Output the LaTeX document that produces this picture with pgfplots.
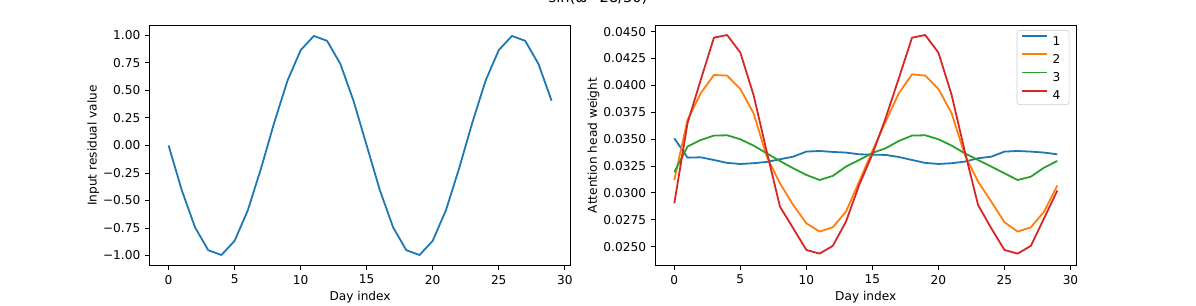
\documentclass[border=0pt]{standalone}
\usepackage{fontspec}
\setmainfont{DejaVu Sans}
\usepackage{pgfplots}
\pgfplotsset{compat=1.18}
\definecolor{tabblue}{HTML}{1F77B4}
\definecolor{taborange}{HTML}{FF7F0E}
\definecolor{tabgreen}{HTML}{2CA02C}
\definecolor{tabred}{HTML}{D62728}
\pgfplotsset{
  mpl/.style={
    scale only axis,
    anchor=south west,
    width=303.3pt, height=173.5pt,
    xmin=-1.45, xmax=30.45,
    xtick={0,5,10,15,20,25,30},
    tick align=outside,
    tick pos=left,
    major tick length=3.05pt,
    axis line style={line width=0.7pt},
    every tick/.style={black, line width=0.7pt},
    tick label style={font=\fontsize{8.75}{10.5}\selectfont},
    label style={font=\fontsize{8.75}{10.5}\selectfont},
    /pgf/number format/assume math mode=true,
    xlabel={Day index},
    xlabel shift=-2pt,
    ylabel shift=-4pt,
    every axis plot/.append style={line width=1.3pt, mark=none, line join=round},
  }
}
\begin{document}
\begin{tikzpicture}
\begin{axis}[mpl,
  at={(107.6pt,28.1pt)},
  ymin=-1.0945, ymax=1.0945,
  ytick={-1,-0.75,-0.5,-0.25,0,0.25,0.5,0.75,1},
  yticklabels={−1.00,−0.75,−0.50,−0.25,0.00,0.25,0.50,0.75,1.00},
  ylabel={Input residual value},
]
\addplot[tabblue] coordinates {
(0,0.000) (1,-0.407) (2,-0.743) (3,-0.951) (4,-0.995) (5,-0.866)
(6,-0.588) (7,-0.208) (8,0.208) (9,0.588) (10,0.866) (11,0.995)
(12,0.951) (13,0.743) (14,0.407) (15,0.000) (16,-0.407) (17,-0.743)
(18,-0.951) (19,-0.995) (20,-0.866) (21,-0.588) (22,-0.208) (23,0.208)
(24,0.588) (25,0.866) (26,0.995) (27,0.951) (28,0.743) (29,0.407)
};
\end{axis}
\begin{axis}[mpl,
  at={(471.7pt,28.1pt)},
  ymin=0.02320, ymax=0.04562,
  ytick={0.025,0.0275,0.03,0.0325,0.035,0.0375,0.04,0.0425,0.045},
  yticklabel style={/pgf/number format/.cd, fixed, fixed zerofill, precision=4},
  scaled y ticks=false,
  ylabel={Attention head weight},
  legend style={at={(1,1)}, anchor=north east, xshift=-5pt, yshift=-3.6pt,
    draw=black!20, rounded corners=2pt, fill=white, fill opacity=0.8, text opacity=1,
    font=\fontsize{8.75}{10.5}\selectfont, row sep=6pt, inner xsep=2.9pt, inner ysep=3.5pt,
    nodes={text height=6.5pt, text depth=0pt, inner ysep=0pt, inner xsep=3.5pt}},
  legend cell align=left,
  legend image code/.code={\draw[#1, line width=1.3pt] (0cm,3.25pt) -- (0.63cm,3.25pt);},
]
\addplot[tabblue] coordinates {
(0,0.03508) (1,0.03328) (2,0.03331) (3,0.03306) (4,0.03279) (5,0.03269)
(6,0.03276) (7,0.03288) (8,0.03313) (9,0.03337) (10,0.03384) (11,0.03390)
(12,0.03381) (13,0.03375) (14,0.03359) (15,0.03356) (16,0.03353) (17,0.03334)
(18,0.03306) (19,0.03279) (20,0.03269) (21,0.03276) (22,0.03291) (23,0.03322)
(24,0.03337) (25,0.03384) (26,0.03390) (27,0.03384) (28,0.03375) (29,0.03359)
};
\addlegendentry{1}
\addplot[taborange] coordinates {
(0,0.03120) (1,0.03679) (2,0.03927) (3,0.04097) (4,0.04091) (5,0.03967)
(6,0.03741) (7,0.03338) (8,0.03089) (9,0.02888) (10,0.02717) (11,0.02640)
(12,0.02680) (13,0.02826) (14,0.03105) (15,0.03390) (16,0.03663) (17,0.03927)
(18,0.04103) (19,0.04091) (20,0.03967) (21,0.03741) (22,0.03353) (23,0.03105)
(24,0.02919) (25,0.02727) (26,0.02640) (27,0.02680) (28,0.02826) (29,0.03068)
};
\addlegendentry{2}
\addplot[tabgreen] coordinates {
(0,0.03192) (1,0.03431) (2,0.03492) (3,0.03533) (4,0.03536) (5,0.03499)
(6,0.03440) (7,0.03368) (8,0.03297) (9,0.03229) (10,0.03167) (11,0.03120)
(12,0.03158) (13,0.03245) (14,0.03306) (15,0.03372) (16,0.03415) (17,0.03483)
(18,0.03533) (19,0.03536) (20,0.03499) (21,0.03440) (22,0.03368) (23,0.03306)
(24,0.03245) (25,0.03182) (26,0.03120) (27,0.03151) (28,0.03235) (29,0.03297)
};
\addlegendentry{3}
\addplot[tabred] coordinates {
(0,0.02903) (1,0.03648) (2,0.04051) (3,0.04444) (4,0.04469) (5,0.04305)
(6,0.03911) (7,0.03384) (8,0.02872) (9,0.02671) (10,0.02469) (11,0.02435)
(12,0.02507) (13,0.02733) (14,0.03074) (15,0.03360) (16,0.03694) (17,0.04066)
(18,0.04444) (19,0.04469) (20,0.04305) (21,0.03911) (22,0.03384) (23,0.02888)
(24,0.02671) (25,0.02469) (26,0.02435) (27,0.02507) (28,0.02764) (29,0.03021)
};
\addlegendentry{4}
\end{axis}
\node[anchor=base, font=\fontsize{10.5}{12.6}\selectfont] at (430.6pt,217.6pt) {sin(ω=28/30)};
\pgfresetboundingbox
\path[use as bounding box] (0,0) rectangle (861.1pt,219.6pt);
\end{tikzpicture}
\end{document}
